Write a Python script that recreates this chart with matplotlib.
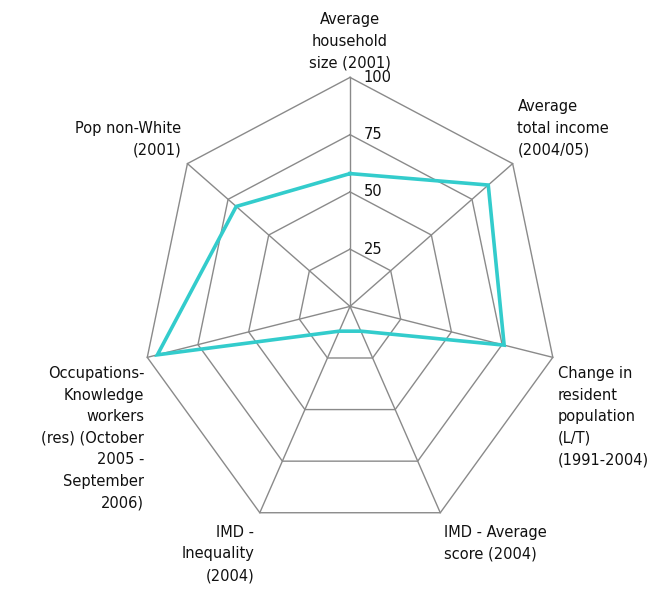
import numpy as np
import matplotlib
matplotlib.use("Agg")
import matplotlib.pyplot as plt

categories = [
    "Average\nhousehold\nsize (2001)",
    "Average\ntotal income\n(2004/05)",
    "Change in\nresident\npopulation\n(L/T)\n(1991-2004)",
    "IMD - Average\nscore (2004)",
    "IMD -\nInequality\n(2004)",
    "Occupations-\nKnowledge\nworkers\n(res) (October\n2005 -\nSeptember\n2006)",
    "Pop non-White\n(2001)",
]
values = [58, 85, 76, 12, 12, 95, 70]
levels = [25, 50, 75, 100]

n = len(categories)
theta = np.arange(n) * 2 * np.pi / n


def xy(r, t):
    return np.asarray(r) * np.sin(t), np.asarray(r) * np.cos(t)


fig = plt.figure(figsize=(6.72, 5.89), dpi=100)
ax = fig.add_axes([0, 0, 1, 1])
ax.set_xlim(-168.3, 154.8)
ax.set_ylim(-123.4, 133.8)
ax.axis("off")

grid = "#8a8a8a"
tt = np.append(theta, theta[0])
for lv in levels:
    gx, gy = xy(lv, tt)
    ax.plot(gx, gy, color=grid, lw=1.0, zorder=1)
for t in theta:
    sx, sy = xy([0, 100], t)
    ax.plot(sx, sy, color=grid, lw=1.0, zorder=1)

for lv in levels:
    ax.text(6.5, lv, str(lv), ha="left", va="center", fontsize=10.5,
            color="#111111", zorder=3)

vx, vy = xy(np.append(values, values[0]), tt)
ax.plot(vx, vy, color="#33cccc", lw=2.6, solid_joinstyle="miter", zorder=2)

# label anchors, placed by side of the chart
label_pos = [
    (0, 103, "center", "bottom"),
    (80.5, 90.5, "left", "top"),
    (100, -26, "left", "top"),
    (45, -95.4, "left", "top"),
    (-46, -95.4, "right", "top"),
    (-99, -26, "right", "top"),
    (-81, 81, "right", "top"),
]
for lab, (lx, ly, ha, va) in zip(categories, label_pos):
    ax.text(lx, ly, lab, ha=ha, va=va, fontsize=10.5, linespacing=1.55,
            color="#111111", multialignment=ha)

fig.savefig("out.png", dpi=100)
